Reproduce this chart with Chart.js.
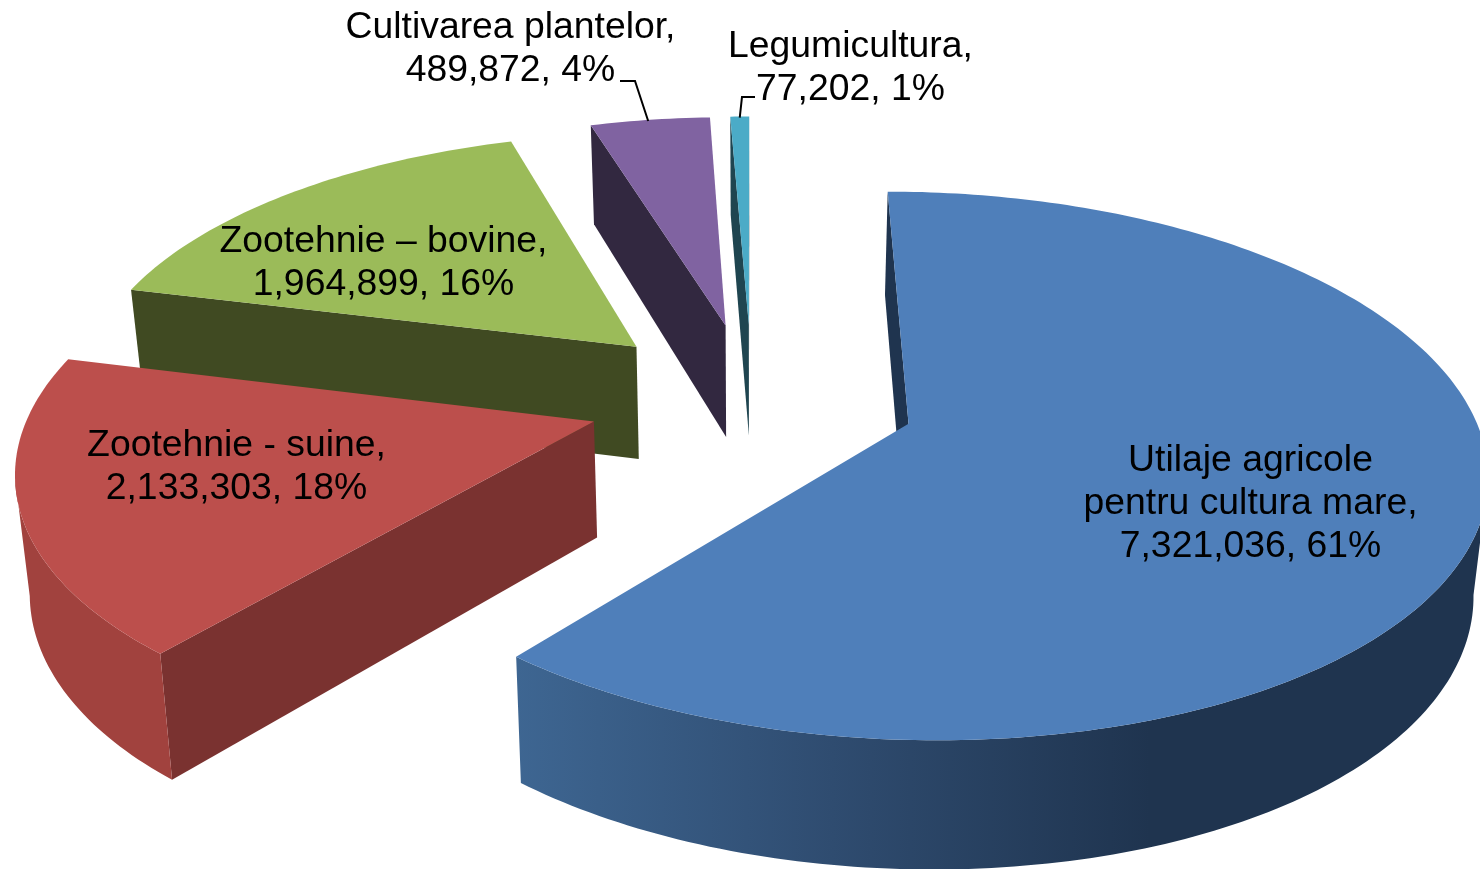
<!DOCTYPE html>
<html><head><meta charset="utf-8">
<style>html,body{margin:0;padding:0;background:#fff;overflow:hidden}canvas{display:block}</style>
<script src="https://cdn.jsdelivr.net/npm/chart.js@4"></script>
</head><body><canvas id="c" width="1480" height="869"></canvas>
<script>
const categories = ["Utilaje agricole pentru cultura mare","Zootehnie - suine","Zootehnie – bovine","Cultivarea plantelor","Legumicultura"];
const values = [7321036,2133303,1964899,489872,77202];
const percents = [61,18,16,4,1];
const nameLines = [["Utilaje agricole","pentru cultura mare,"],["Zootehnie - suine,"],["Zootehnie – bovine,"],["Cultivarea plantelor,"],["Legumicultura,"]];
const topColors = ["#4f7fba","#bc4f4c","#9bbb59","#8063a1","#4babc7"];
const cutColors = ["#1f344f","#7a3230","#404a22","#322840","#1f4550"];
const labelPos = [[1250.5,461],[236.5,446],[383.5,242],[510.5,28],[850.5,46.5]];

const TILT=0.464, PERSP=0.00027, DEPTH=115, DEPTH_P=0.0002, BX=0.98;
function proj(el,wx,wy,bottom){
  const s=1/(1-PERSP*wy);
  if(!bottom) return [el.x+wx*s, el.y+TILT*wy*s];
  return [el.x+wx*s*BX, el.y+TILT*wy*s+DEPTH*(1+DEPTH_P*wy)];
}
function rimPoint(el,f){
  const E=el.options.offset, R=el.outerRadius, m=(el.startAngle+el.endAngle)/2, a=el.startAngle+(el.endAngle-el.startAngle)*f;
  return [Math.cos(m)*E+R*Math.cos(a),Math.sin(m)*E+R*Math.sin(a)];
}
function slicePts(el){
  const E=el.options.offset, a0=el.startAngle, a1=el.endAngle, m=(a0+a1)/2;
  const arc=[], n=Math.max(4,Math.ceil((a1-a0)/(Math.PI/180)));
  for(let i=0;i<=n;i++) arc.push(rimPoint(el,i/n));
  return {apex:[Math.cos(m)*E,Math.sin(m)*E],arc};
}
function poly(ctx,pts,fill){
  ctx.beginPath(); pts.forEach((p,i)=>i?ctx.lineTo(p[0],p[1]):ctx.moveTo(p[0],p[1])); ctx.closePath();
  ctx.fillStyle=fill; ctx.fill();
}
function outerFill(ctx,i){
  if(i===0){const g=ctx.createLinearGradient(514,0,1150,0);g.addColorStop(0,"#3e6692");g.addColorStop(.5,"#2f4c70");g.addColorStop(1,"#1f344f");return g;}
  if(i===1){return "#a1423e";}
  return cutColors[i];
}
const pie3d={id:"pie3d",
  beforeDatasetDraw(chart){
    const ctx=chart.ctx, els=chart.getDatasetMeta(0).data;
    for(let i=els.length-1;i>=0;i--){
      const el=els[i], {apex,arc}=slicePts(el);
      const T=w=>proj(el,w[0],w[1],false), B=w=>proj(el,w[0],w[1],true);
      const st=arc[0], en=arc[arc.length-1];
      if(T(st)[0]<T(apex)[0]) poly(ctx,[T(apex),T(st),B(st),B(apex)],cutColors[i]);
      if(T(apex)[0]<T(en)[0]) poly(ctx,[T(en),T(apex),B(apex),B(en)],cutColors[i]);
      let run=[];
      const flush=()=>{ if(run.length>1){poly(ctx,run.map(T).concat(run.slice().reverse().map(B)),outerFill(ctx,i));} run=[]; };
      for(let k=0;k<arc.length-1;k++){
        if(T(arc[k+1])[0]<T(arc[k])[0]){ if(!run.length) run.push(arc[k]); run.push(arc[k+1]); } else flush();
      }
      flush();
      poly(ctx,[T(apex)].concat(arc.map(T)),topColors[i]);
    }
    return false;
  },
  afterDraw(chart){
    const ctx=chart.ctx, els=chart.getDatasetMeta(0).data;
    ctx.save();
    ctx.strokeStyle="#000"; ctx.lineWidth=2; ctx.lineJoin="miter";
    const leaders={3:[[620,81],[635,81]],4:[[755,97],[742,97]]};
    const along={3:0.485,4:0.5};
    for(const i of [3,4]){
      const el=els[i],mid=proj(el,...rimPoint(el,along[i]),false);
      ctx.beginPath(); ctx.moveTo(...leaders[i][0]); ctx.lineTo(...leaders[i][1]); ctx.lineTo(mid[0],mid[1]+1); ctx.stroke();
    }
    ctx.fillStyle="#000"; ctx.font="37.33px 'Liberation Sans', Arial, sans-serif"; ctx.textAlign="center"; ctx.textBaseline="middle";
    values.forEach((v,i)=>{
      const lines=nameLines[i].concat([v.toLocaleString("en-US")+", "+percents[i]+"%"]);
      lines.forEach((t,j)=>ctx.fillText(t,labelPos[i][0],labelPos[i][1]+j*43));
    });
    ctx.restore();
  }
};
new Chart(document.getElementById("c"),{
  type:"pie",
  data:{labels:categories,datasets:[{data:values,backgroundColor:topColors,borderWidth:0,offset:164,radius:560}]},
  options:{responsive:false,animation:false,layout:{padding:{left:24,bottom:74}},
    plugins:{legend:{display:false},tooltip:{enabled:false}}},
  plugins:[pie3d]
});
</script></body></html>
